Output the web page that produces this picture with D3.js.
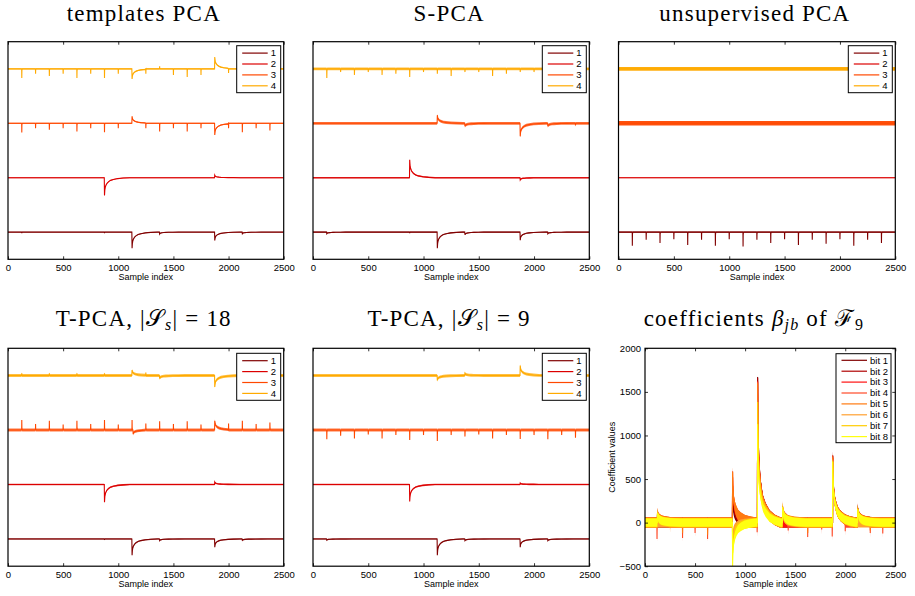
<!DOCTYPE html>
<html>
<head>
<meta charset="utf-8">
<script src="https://cdn.jsdelivr.net/npm/d3@7"></script>
<style>
  body { margin: 0; background: #fff; }
  svg text { font-family: "Liberation Sans", Arial, sans-serif; }
  .title { font-family: "Liberation Serif", serif; font-size: 23px; letter-spacing: 1.2px; }
</style>
</head>
<body>
<svg id="chart" width="915" height="596"></svg>
<script>
// tick values
const xTicks = [0, 500, 1000, 1500, 2000, 2500]
const coefTicks = [-500, 0, 500, 1000, 1500, 2000]

// legend names and colours
const traceNames = ['1', '2', '3', '4']
const traceColors = ['#800000', '#dc0000', '#ff4800', '#ffaa00']
const bitNames = ['bit 1', 'bit 2', 'bit 3', 'bit 4', 'bit 5', 'bit 6', 'bit 7', 'bit 8']
const bitColors = ['#800000', '#b00000', '#ff1010', '#ff4a28', '#ff7a10', '#ffa030', '#ffcc00', '#ffff10']

// pulse shapes (sample offset, relative height)
const decayDx = [-2, 0, 3, 6, 10, 16, 25, 38, 55, 80, 120, 170, 230]
const decayDy = [0, 1, 0.7, 0.58, 0.48, 0.39, 0.3, 0.22, 0.15, 0.1, 0.05, 0.02, 0]
const spikeDx = [-1, 0, 1, 3]
const spikeDy = [0, 1, 0.2, 0]

// events per trace: [sample, amplitude, shape]  (d = decaying, s = sharp)
// templates PCA
const tplNoise = [0.008, 0.008, 0.012, 0.012]
const tplEvents = [
  [[125, -0.02, 's'], [875, -0.02, 's'], [1125, -0.295, 'd'], [1375, -0.035, 'd'], [1875, -0.155, 'd'], [2125, -0.03, 'd']],
  [[875, -0.325, 'd'], [1875, 0.045, 'd']],
  [[125, -0.17, 's'], [250, -0.09, 's'], [375, -0.12, 's'], [500, -0.09, 's'], [625, -0.15, 's'], [750, -0.09, 's'],
   [875, -0.165, 's'], [1000, -0.09, 's'], [1125, 0.13, 'd'], [1250, -0.09, 's'], [1375, -0.15, 's'], [1500, -0.09, 's'],
   [1625, -0.15, 's'], [1750, -0.09, 's'], [1875, -0.215, 'd'], [2000, -0.09, 's'], [2125, -0.165, 's'], [2250, -0.09, 's'],
   [2375, -0.13, 's']],
  [[125, -0.165, 's'], [250, -0.09, 's'], [375, -0.13, 's'], [500, -0.09, 's'], [625, -0.165, 's'], [750, -0.09, 's'],
   [875, -0.165, 's'], [1000, -0.09, 's'], [1125, -0.185, 'd'], [1250, -0.09, 's'], [1375, 0.05, 's'], [1500, -0.11, 's'],
   [1625, -0.15, 's'], [1750, -0.11, 's'], [1875, 0.22, 'd'], [2000, -0.075, 's']]
]

// S-PCA
const spcaNoise = [0.01, 0.014, 0.026, 0.026]
const spcaEvents = [
  [[125, -0.03, 'd'], [875, -0.02, 's'], [1125, -0.295, 'd'], [1375, -0.05, 'd'], [1875, -0.15, 'd'], [2125, -0.03, 'd']],
  [[875, 0.33, 'd'], [1875, -0.04, 'd']],
  [[1125, 0.15, 'd'], [1375, -0.055, 'd'], [1875, -0.24, 'd'], [2125, -0.055, 'd'], [2375, -0.04, 's']],
  [[125, -0.165, 's'], [250, -0.055, 's'], [375, -0.11, 's'], [500, -0.055, 's'], [625, -0.11, 's'], [750, -0.09, 's'],
   [875, -0.15, 's'], [1000, -0.055, 's'], [1125, -0.09, 's'], [1250, -0.13, 's'], [1375, -0.055, 's'], [1500, -0.055, 's'],
   [1625, -0.13, 's'], [1750, -0.09, 's'], [1875, -0.055, 's'], [2000, -0.055, 's']]
]

// unsupervised PCA
const upcaNoise = [0.01, 0.012, 0.04, 0.036]
const upcaEvents = [
  [[125, -0.25, 's'], [250, -0.14, 's'], [375, -0.2, 's'], [500, -0.13, 's'], [625, -0.235, 's'], [750, -0.14, 's'],
   [875, -0.25, 's'], [1000, -0.13, 's'], [1125, -0.265, 's'], [1250, -0.14, 's'], [1375, -0.2, 's'], [1500, -0.13, 's'],
   [1625, -0.235, 's'], [1750, -0.14, 's'], [1875, -0.215, 's'], [2000, -0.13, 's'], [2125, -0.25, 's'], [2250, -0.14, 's'],
   [2375, -0.2, 's']],
  [], [], []
]

// T-PCA, |S_s| = 18
const t18Noise = [0.012, 0.015, 0.026, 0.026]
const t18Events = [
  [[875, -0.02, 's'], [1125, -0.3, 'd'], [1375, -0.03, 'd'], [1875, -0.15, 'd'], [2125, -0.025, 'd']],
  [[875, -0.325, 'd'], [1875, 0.045, 'd']],
  [[125, 0.185, 's'], [250, 0.11, 's'], [375, 0.17, 's'], [500, 0.1, 's'], [625, 0.17, 's'], [750, 0.11, 's'],
   [875, 0.185, 's'], [1000, 0.1, 's'], [1125, 0.185, 's'], [1135, -0.075, 'd'], [1250, 0.12, 's'], [1375, 0.16, 's'],
   [1500, 0.11, 's'], [1625, 0.16, 's'], [1750, 0.1, 's'], [1875, 0.17, 'd'], [2000, 0.12, 's'], [2125, 0.17, 's'],
   [2250, 0.11, 's'], [2375, 0.14, 's']],
  [[125, 0.04, 's'], [375, 0.04, 's'], [625, 0.04, 's'], [875, 0.04, 's'], [1125, 0.1, 'd'], [1250, 0.055, 's'],
   [1375, -0.055, 'd'], [1875, -0.21, 'd']]
]

// T-PCA, |S_s| = 9
const t9Noise = [0.012, 0.015, 0.026, 0.026]
const t9Events = [
  [[125, -0.02, 'd'], [1125, -0.3, 'd'], [1375, -0.03, 'd'], [1875, -0.15, 'd'], [2125, -0.03, 'd']],
  [[875, -0.31, 'd'], [1875, 0.025, 'd']],
  [[125, -0.17, 's'], [250, -0.105, 's'], [375, -0.155, 's'], [500, -0.08, 's'], [625, -0.155, 's'], [750, -0.09, 's'],
   [875, -0.185, 's'], [1000, -0.09, 's'], [1125, -0.2, 's'], [1250, -0.09, 's'], [1375, -0.12, 's'], [1500, -0.08, 's'],
   [1625, -0.155, 's'], [1750, -0.09, 's'], [1875, -0.165, 's'], [2000, -0.09, 's'], [2125, -0.17, 's'], [2250, -0.09, 's'],
   [2375, -0.14, 's']],
  [[1125, -0.09, 'd'], [1375, 0.04, 'd'], [1875, 0.185, 'd']]
]

// coefficients beta_jb of F_9 (coefficient values)
const bitNoise = [58, 58, 56, 60, 62, 55, 52, 48]
const bitEvents = [
  [[125, 90, 'd'], [875, 300, 'd'], [1125, 1670, 'd'], [1375, 120, 'd'], [1875, 770, 'd'], [2125, 165, 'd']],
  [[875, 420, 'd'], [1125, 1660, 'd'], [1875, 760, 'd'], [2125, 150, 'd']],
  [[125, 100, 'd'], [875, 520, 'd'], [1125, 1620, 'd'], [1875, 740, 'd'], [2125, 140, 'd']],
  [[120, -189, 's'], [125, 117, 'd'], [375, -177, 's'], [500, -120, 's'], [625, -189, 's'], [875, 590, 'd'],
   [1120, -110, 's'], [1125, 1615, 'd'], [1375, 187, 'd'], [1430, -90, 's'], [1625, -166, 's'], [1765, -80, 's'],
   [1870, -160, 's'], [1875, 770, 'd'], [2000, -100, 's'], [2125, 168, 'd'], [2250, -120, 's'], [2375, -125, 's']],
  [[125, 110, 'd'], [250, -60, 's'], [375, -120, 's'], [625, -140, 's'], [875, 580, 'd'], [1125, 1600, 'd'],
   [1375, 170, 'd'], [1625, -120, 's'], [1875, 750, 'd'], [2125, 150, 'd'], [2250, -90, 's']],
  [[875, -200, 'd'], [1125, 1385, 'd'], [1375, 150, 'd'], [1875, 720, 'd']],
  [[125, 100, 'd'], [875, -350, 'd'], [1125, 1385, 'd'], [1375, 180, 'd'], [1875, 700, 'd'], [2125, 150, 'd']],
  [[125, 110, 'd'], [875, -497, 'd'], [1125, 1130, 'd'], [1375, 180, 'd'], [1875, 700, 'd'], [2125, 160, 'd']]
]

const svg = d3.select('#chart')

//turn an event list into a polyline (tails stop where the next event starts)
function tracePoints(base, events) {
  const evs = events.slice().sort((a, b) => a[0] - b[0])
  const pts = [[0, base]]
  evs.forEach(([s, a, kind], i) => {
    const dx = kind === 'd' ? decayDx : spikeDx
    const dy = kind === 'd' ? decayDy : spikeDy
    const stop = i < evs.length - 1 ? evs[i + 1][0] - 2 : 2500
    dx.forEach((o, k) => {
      if (s + o < stop) pts.push([s + o, base + a * dy[k]])
    })
  })
  pts.push([2500, base])
  return pts
}

//title with math bits: parts are [text, style] pairs
function title(g, cx, y, parts) {
  const t = g.append('text')
    .attr('class', 'title')
    .attr('x', cx)
    .attr('y', y)
    .attr('text-anchor', 'middle')
  parts.forEach(([txt, st]) => {
    const sp = t.append('tspan').text(txt)
    if (st === 'i') sp.attr('font-style', 'italic')
    if (st === 'sub') sp.attr('font-style', 'italic').attr('font-size', '16px').attr('dy', 4)
    if (st === 'up') sp.attr('dy', -4)
    if (st === 'subn') sp.attr('font-size', '16px').attr('dy', 4)
  })
}

function drawPanel(p, idx) {
  const [x0, y0, x1, y1] = p.box
  const x = d3.scaleLinear().domain([0, 2500]).range([x0, x1])
  const y = d3.scaleLinear().domain(p.yDomain).range([y1, y0])
  const g = svg.append('g')

  svg.append('clipPath')
    .attr('id', 'clip' + idx)
    .append('rect')
    .attr('x', x0).attr('y', y0)
    .attr('width', x1 - x0).attr('height', y1 - y0)

  const plot = g.append('g').attr('clip-path', `url(#clip${idx})`)

  p.events.forEach((evs, i) => {
    const base = p.bases ? p.bases[i] : i + 1
    const pts = tracePoints(base, evs)
    const n = p.noise[i]
    const area = d3.area()
      .x(d => x(d[0]))
      .y0(d => y(d[1] - n))
      .y1(d => y(d[1] + n))
    const line = d3.line()
      .x(d => x(d[0]))
      .y(d => y(d[1]))
    plot.append('path')
      .attr('d', area(pts))
      .attr('fill', p.colors[i])
      .attr('opacity', p.bandOpacity ? p.bandOpacity[i] : 0.75)
    plot.append('path')
      .attr('d', line(pts))
      .attr('fill', 'none')
      .attr('stroke', p.colors[i])
      .attr('stroke-width', 1.1)
  })

  // axes, ticks pointing inward like matlab
  const bottom = g.append('g')
    .attr('transform', `translate(0,${y1})`)
    .call(d3.axisBottom(x).tickValues(xTicks).tickSize(-3).tickPadding(5).tickFormat(d3.format('d')))
  bottom.selectAll('text').attr('font-size', 9.5).attr('font-family', 'Liberation Sans, Arial, sans-serif')
  g.append('g')
    .attr('transform', `translate(0,${y0})`)
    .call(d3.axisTop(x).tickValues(xTicks).tickSize(-3).tickFormat(''))

  if (p.yTicks) {
    const left = g.append('g')
      .attr('transform', `translate(${x0},0)`)
      .call(d3.axisLeft(y).tickValues(p.yTicks).tickSize(-3).tickPadding(4)
        .tickFormat(d => d < 0 ? '\u2212' + Math.abs(d) : d))
    left.selectAll('text').attr('font-size', 9.5).attr('font-family', 'Liberation Sans, Arial, sans-serif')
    g.append('g')
      .attr('transform', `translate(${x1},0)`)
      .call(d3.axisRight(y).tickValues(p.yTicks).tickSize(-3).tickFormat(''))
    g.append('text')
      .attr('transform', `translate(${x0 - 30},${(y0 + y1) / 2}) rotate(-90)`)
      .attr('text-anchor', 'middle')
      .attr('font-size', 9)
      .text('Coefficient values')
  }
  g.selectAll('.domain').remove()
  g.selectAll('.tick line').attr('stroke', '#000').attr('stroke-width', 0.8)

  g.append('rect')
    .attr('x', x0).attr('y', y0)
    .attr('width', x1 - x0).attr('height', y1 - y0)
    .attr('fill', 'none')
    .attr('stroke', '#000')
    .attr('stroke-width', 1.2)

  g.append('text')
    .attr('x', (x0 + x1) / 2)
    .attr('y', y1 + 21)
    .attr('text-anchor', 'middle')
    .attr('font-size', 9)
    .text('Sample index')

  // legend
  const lg = p.legend
  const lx = x1 - lg.right - lg.w
  const ly = y0 + lg.top
  const leg = g.append('g')
  leg.append('rect')
    .attr('x', lx).attr('y', ly)
    .attr('width', lg.w).attr('height', lg.h)
    .attr('fill', '#fff')
    .attr('stroke', '#000')
    .attr('stroke-width', 1)
  p.names.forEach((nm, i) => {
    const ry = ly + lg.first + i * 10.9
    leg.append('line')
      .attr('x1', lx + 5.5).attr('x2', lx + 31)
      .attr('y1', ry).attr('y2', ry)
      .attr('stroke', p.colors[i])
      .attr('stroke-width', 1.2)
    leg.append('text')
      .attr('x', lx + 34)
      .attr('y', ry)
      .attr('dy', '0.35em')
      .attr('font-size', 9.5)
      .text(nm)
  })

  const cx = p.titleX !== undefined ? p.titleX : (x0 + x1) / 2 - 2
  title(svg, cx, p.titleY, p.title)
}

const smallLegend = { w: 44, h: 47, right: 3, top: 4, first: 7.4 }
const smallLegendB = { w: 44, h: 47, right: 3, top: 5, first: 7.4 }

const panels = [
  { box: [8, 41.7, 283.7, 259.3], yDomain: [0.5, 4.5], noise: tplNoise, events: tplEvents,
    colors: traceColors, names: traceNames, legend: smallLegend, titleY: 21,
    title: [['templates PCA']] },
  { box: [313, 41.7, 589.3, 259.3], yDomain: [0.5, 4.5], noise: spcaNoise, events: spcaEvents,
    colors: traceColors, names: traceNames, legend: smallLegend, titleY: 21,
    title: [['S-PCA']] },
  { box: [618.5, 41.7, 895.3, 259.3], yDomain: [0.5, 4.5], noise: upcaNoise, events: upcaEvents,
    colors: traceColors, names: traceNames, legend: smallLegend, titleY: 21,
    bandOpacity: [0.85, 0.55, 0.95, 0.95],
    title: [['unsupervised PCA']] },
  { box: [8, 348.3, 283.7, 566.2], yDomain: [0.5, 4.5], noise: t18Noise, events: t18Events,
    colors: traceColors, names: traceNames, legend: smallLegendB, titleY: 326,
    title: [['T-PCA, |'], ['\u{1D4AE}'], ['s', 'sub'], ['| = 18', 'up']] },
  { box: [313, 348.3, 589.3, 566.2], yDomain: [0.5, 4.5], noise: t9Noise, events: t9Events,
    colors: traceColors, names: traceNames, legend: smallLegendB, titleY: 326,
    title: [['T-PCA, |'], ['\u{1D4AE}'], ['s', 'sub'], ['| = 9', 'up']] },
  { box: [645, 348.3, 895.3, 566.2], yDomain: [-500, 2000], noise: bitNoise, events: bitEvents,
    bases: [0, 0, 0, 0, 0, 0, 0, 0], yTicks: coefTicks,
    colors: bitColors, names: bitNames, bandOpacity: [1, 1, 1, 1, 1, 1, 1, 1],
    legend: { w: 55, h: 89, right: 4.3, top: 5.4, first: 6.6 }, titleY: 326, titleX: 754,
    title: [['coefficients '], ['\u03B2', 'i'], ['jb', 'sub'], [' of ', 'up'], ['\u2131'], ['9', 'subn']] }
]

panels.forEach(drawPanel)
</script>
</body>
</html>
